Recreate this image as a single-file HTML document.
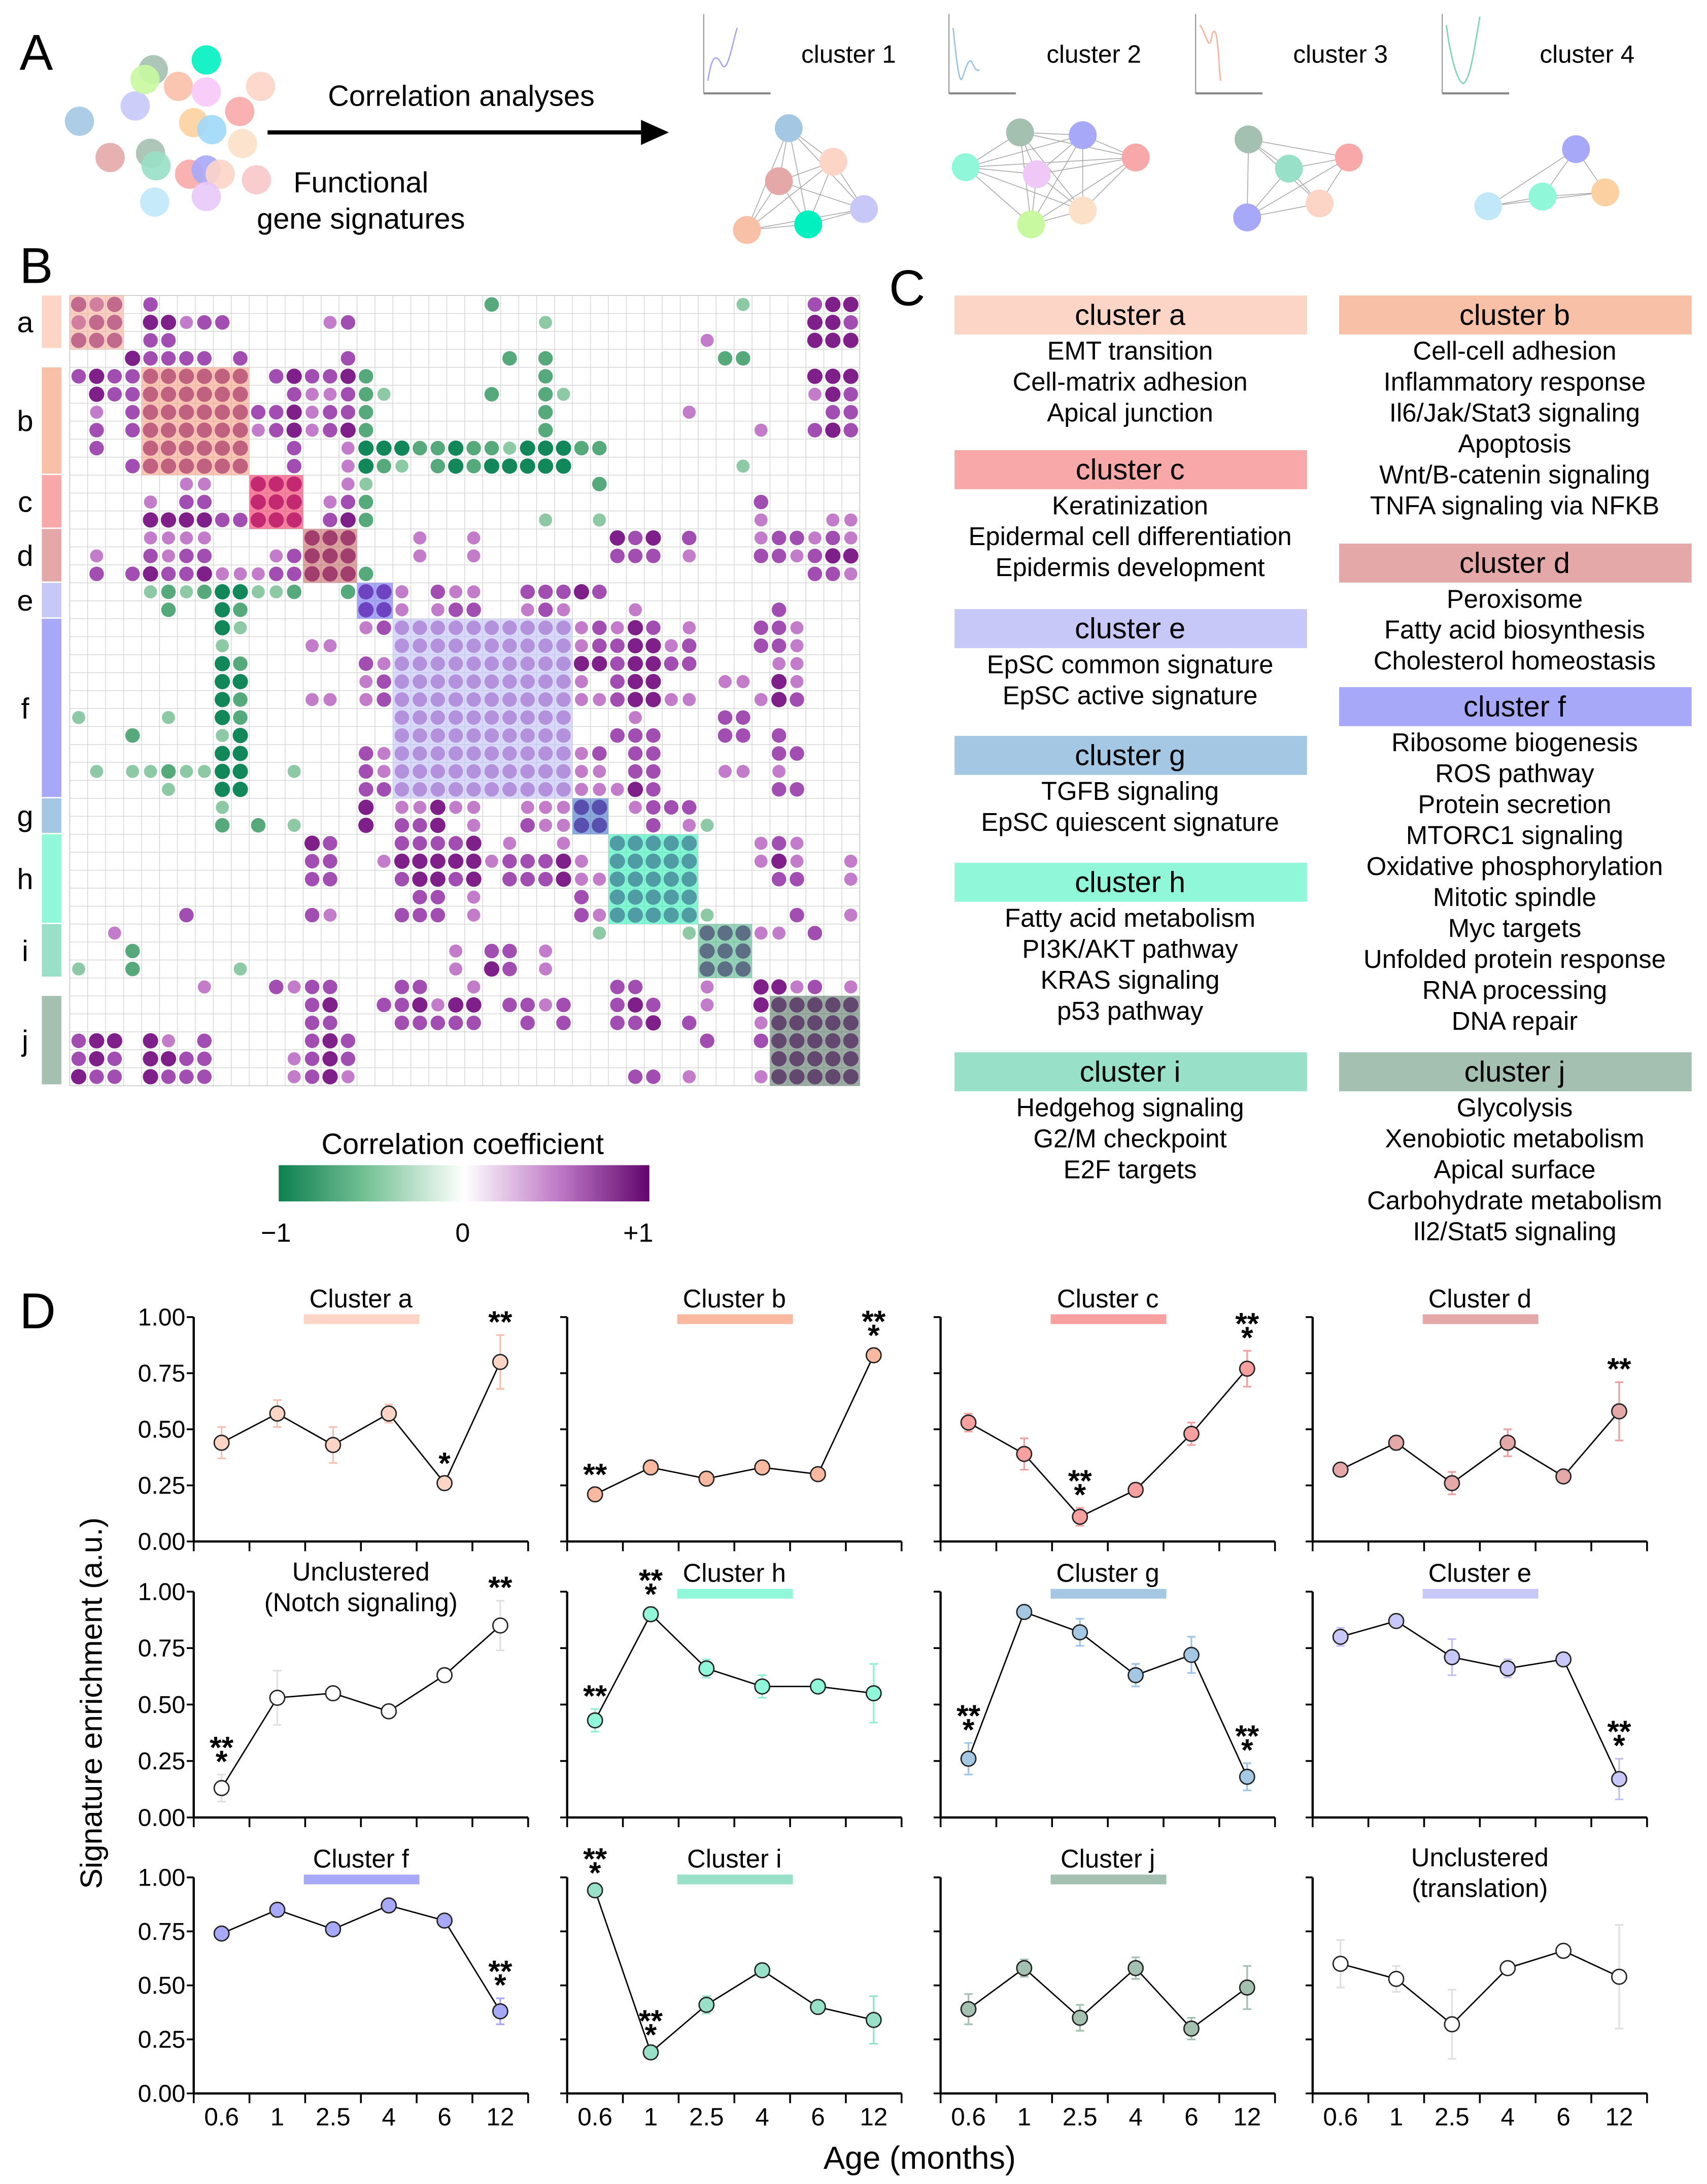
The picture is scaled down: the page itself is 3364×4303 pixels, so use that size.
<!DOCTYPE html>
<html><head><meta charset="utf-8"><style>
html,body{margin:0;padding:0;background:#fff}
svg{display:block}
text{font-family:"Liberation Sans",Arial,sans-serif;fill:#000}
</style></head><body>
<svg id="fig" xmlns="http://www.w3.org/2000/svg" width="3364" height="4303" viewBox="0 0 1225 1567">
<rect x="0" y="0" width="1225" height="1567" fill="#fff"/>
<text x="14" y="50" font-size="36">A</text>
<text x="14" y="203" font-size="36">B</text>
<text x="638" y="219" font-size="36">C</text>
<text x="14" y="953" font-size="36">D</text>
<g id="panelA">
<text x="331" y="76" font-size="21" text-anchor="middle">Correlation analyses</text>
<line x1="192" y1="95" x2="462" y2="95" stroke="#000" stroke-width="3"/>
<polygon points="460,86 480,95 460,104" fill="#000"/>
<text x="259" y="138" font-size="21" text-anchor="middle">Functional</text>
<text x="259" y="164" font-size="21" text-anchor="middle">gene signatures</text>
</g>
<g id="bubbles"></g>
<g id="miniplots"></g>
<g id="networks"></g>
<g id="heatmap"></g>
<g id="colorbar">
<defs><linearGradient id="cbg" x1="0" x2="1" y1="0" y2="0">
<stop offset="0" stop-color="#0e8050"/><stop offset="0.25" stop-color="#7cc49a"/><stop offset="0.5" stop-color="#ffffff"/><stop offset="0.75" stop-color="#c07cc8"/><stop offset="1" stop-color="#62066e"/></linearGradient></defs>
<text x="332" y="828" font-size="21" text-anchor="middle">Correlation coefficient</text>
<rect x="200" y="836" width="266" height="26" fill="url(#cbg)"/>
<text x="198" y="891" font-size="19" text-anchor="middle">−1</text>
<text x="332" y="891" font-size="19" text-anchor="middle">0</text>
<text x="458" y="891" font-size="19" text-anchor="middle">+1</text>
</g>
<g id="panelC"></g>
<g id="panelD"></g>
<text x="0" y="0" font-size="22" text-anchor="middle" transform="translate(73,1222) rotate(-90)">Signature enrichment (a.u.)</text>
<text x="660" y="1556" font-size="23" text-anchor="middle">Age (months)</text>
</svg>
<script>
var NS='http://www.w3.org/2000/svg';
function mk(parent,tag,attrs,txt){var e=document.createElementNS(NS,tag);for(var k in attrs)e.setAttribute(k,attrs[k]);if(txt!==undefined)e.textContent=txt;parent.appendChild(e);return e;}

var bubbleX=[57,79,97,110,104,128,148,148,187,172,139,152,174,108,112,136,148,158,184,111,148];
var bubbleY=[87,113,76,50,57,62,43,66,62,80,88,93,103,110,119,125,122,125,129,145,141];
var bubbleC=['#a4c8e4','#e4a8a8','#c8c8f8','#a4c0b0','#c8f8a0','#f9c0a8','#00f0c0','#f8c8f8','#fcd5c6','#f8a8a8','#fcd0a0','#a0d8f8','#fce0c8','#a4c0b0','#98e0c8','#f8a8a8','#a8a8f8','#fcd5c6','#f8c8c8','#c0e8f8','#e8c8f8'];
var gb=document.getElementById('bubbles');
for(var i=0;i<bubbleX.length;i++){
 var c=mk(gb,'circle',{cx:bubbleX[i],cy:bubbleY[i],r:10.5,fill:bubbleC[i],opacity:0.9});
 
 
}
var miniX=[505,681,858,1035];
var miniLabels=['cluster 1','cluster 2','cluster 3','cluster 4'];
var miniColors=['#a8a8f0','#9cc4e0','#f8b4a0','#80d4b0'];
var miniPaths=['M508,58 C510,45 512,40 515,42 C518,44 518,50 521,47 C524,42 526,30 529,20',
 'M684,20 C686,40 688,58 690,57 C692,54 694,42 697,44 C699,47 700,52 703,50',
 'M861,18 C863,20 864,24 866,28 C868,34 869,30 870,24 C872,20 873,24 874,34 C875,44 875,52 876,58',
 'M1038,18 C1040,35 1045,58 1050,60 C1055,58 1058,35 1062,12'];
var gm=document.getElementById('miniplots');
for(var i=0;i<4;i++){
 var x=miniX[i];
 var a1=mk(gm,'line',{x1:x,y1:10,x2:x,y2:67,stroke:'#999','stroke-width':0.8});
 
 
 var a2=mk(gm,'line',{x1:x,y1:67,x2:x+48,y2:67,stroke:'#888','stroke-width':1.5});
 
 
 var p=mk(gm,'path',{d:miniPaths[i],fill:'none',stroke:miniColors[i],'stroke-width':1});
 
 
 var t=mk(gm,'text',{x:x+70,y:45,'font-size':18},miniLabels[i]);
 
 
}
var nets=[
 [[566,92,'#a4c8e4'],[598,116,'#fcd5c6'],[559,130,'#e4a8a8'],[620,150,'#c8c8f8'],[536,165,'#f9c0a8'],[580,161,'#00f0c0']],
 [[732,95,'#a4c0b0'],[777,97,'#a8a8f8'],[693,120,'#90f8d8'],[815,113,'#f8a8a8'],[744,125,'#f0c8f8'],[777,151,'#fce0c8'],[740,161,'#c8f8a0']],
 [[896,100,'#a4c0b0'],[925,121,'#98e0c8'],[968,113,'#f8a8a8'],[947,146,'#fcd5c6'],[895,156,'#a8a8f8']],
 [[1131,107,'#a8a8f8'],[1107,141,'#90f8d8'],[1152,138,'#fcd0a0'],[1068,148,'#c0e8f8']]];
var gn=document.getElementById('networks');
nets.forEach(function(n){
 for(var a=0;a<n.length;a++)for(var b=a+1;b<n.length;b++){
  var l=mk(gn,'line',{x1:n[a][0],y1:n[a][1],x2:n[b][0],y2:n[b][1],stroke:'#aaa','stroke-width':0.6});
  
  
 }
 n.forEach(function(d){
  var c=mk(gn,'circle',{cx:d[0],cy:d[1],r:10,fill:d[2]});
  
  
 });
});

var hmRows=[
"0:3 1:2 2:3 4:2 23:b 37:a 41:2 42:3 43:3",
"0:2 1:3 2:3 4:3 5:3 6:1 7:2 8:2 14:1 15:2 26:a 41:3 42:3 43:2",
"0:3 1:3 2:3 4:2 5:2 35:1 41:3 42:3 43:3",
"3:3 4:2 5:2 6:2 7:2 9:2 15:2 24:b 26:b 36:b 37:b",
"0:2 1:3 2:2 3:2 11:2 12:3 13:2 14:2 15:3 16:b 26:b 41:3 42:3 43:3",
"1:3 2:2 3:2 12:2 13:1 14:1 15:2 16:b 17:a 23:b 26:b 27:a 41:1 42:3 43:2",
"1:1 3:2 10:2 11:2 12:3 13:1 14:2 15:2 16:b 26:b 34:1 42:2 43:2",
"1:2 3:2 10:1 11:2 12:3 13:1 14:2 15:3 16:b 26:b 38:1 41:2 42:3 43:2",
"1:2 12:2 15:1 16:c 17:c 18:c 19:b 20:b 21:c 22:b 23:b 24:a 25:c 26:c 27:c 28:b 29:b",
"3:2 12:2 15:1 16:c 17:b 18:a 20:b 21:c 22:b 23:c 24:c 25:c 26:c 27:c 37:a",
"6:1 7:1 15:1 16:a 29:b",
"4:1 6:2 7:2 14:1 15:2 16:b 38:2",
"4:3 5:3 6:3 7:3 8:2 9:2 14:2 15:3 16:b 26:a 29:a 38:1 42:1 43:1",
"4:1 5:1 6:1 7:1 19:1 22:1 30:3 31:2 32:3 34:2 38:1 39:2 40:2 41:1 42:2 43:1",
"1:1 4:2 5:1 6:2 7:2 11:1 12:2 19:1 22:1 30:2 31:2 32:2 34:1 38:2 39:2 40:1 41:2 42:3 43:3",
"1:2 3:2 4:3 5:2 6:2 7:3 8:1 9:1 10:1 11:2 12:2 16:b 41:2 42:2 43:1",
"4:a 5:b 6:a 7:b 8:c 9:c 10:a 11:a 12:b 15:b 18:1 20:2 21:1 22:1 25:2 26:2 27:2 28:3 29:2",
"5:b 8:c 9:b 18:1 20:1 21:2 22:2 25:1 26:2 27:1 31:1 39:2",
"8:c 9:a 16:1 17:2 28:1 29:2 30:1 31:3 32:2 34:1 38:2 39:2 40:1",
"8:a 13:1 14:1 28:1 29:2 30:2 31:3 32:3 33:1 34:2 38:2 39:2 40:1",
"8:c 9:b 16:2 17:1 28:3 29:3 30:2 31:3 32:3 33:2 34:2 39:1 40:1",
"8:c 9:c 16:1 17:2 28:1 30:2 31:3 32:3 36:1 37:1 39:3 40:1",
"8:c 9:b 13:1 14:1 16:1 17:2 28:1 29:1 30:2 31:3 32:3 33:1 34:1 38:1 39:3 40:2",
"0:a 5:a 8:c 9:b 31:1 36:2 37:2",
"3:b 8:a 9:c 30:2 31:2 32:2 36:2 37:2 39:2",
"8:c 9:c 16:2 17:1 28:1 29:2 31:2 32:2 39:2 40:2",
"1:a 3:a 4:a 5:b 6:a 7:a 8:c 9:c 12:a 16:2 17:1 28:1 29:1 31:2 32:2 36:1 37:1 39:1",
"5:a 8:c 9:c 16:2 17:2 28:1 29:1 30:1 31:3 32:2 39:2 40:2",
"8:a 16:3 18:1 19:1 20:3 21:1 22:1 25:1 26:1 27:1 31:1 32:2 33:2 34:2",
"8:b 10:b 12:a 16:3 18:2 19:2 20:3 22:1 25:2 26:1 27:1 32:2 34:1 35:a",
"13:3 14:2 18:2 19:2 20:2 21:2 22:3 24:1 27:1 38:1 39:2 40:1",
"13:2 14:2 17:1 18:3 19:3 20:3 21:3 22:3 23:1 24:2 25:2 26:2 27:3 28:1 38:1 39:3 40:1 43:1",
"13:2 14:2 18:2 19:3 20:3 21:2 22:3 24:2 25:2 26:2 27:3 28:1 29:1 39:2 40:2 43:1",
"19:2 20:2 22:1 28:2",
"6:2 13:2 14:1 18:2 19:2 20:2 22:1 28:2 29:1 35:a 40:2 43:1",
"2:1 29:a 34:a 38:1 39:1 41:2",
"3:b 21:1 23:2 24:2 26:1",
"0:a 3:b 9:a 21:1 23:3 24:2 26:1",
"7:1 11:2 12:1 13:2 14:2 18:2 19:2 22:1 30:2 31:2 35:1 38:3 39:3 40:1 41:2 43:1",
"13:2 14:3 17:2 18:2 19:3 20:1 21:3 22:3 24:2 25:2 26:1 27:2 30:2 31:3 32:2 35:1 38:3",
"13:2 14:2 18:2 19:2 20:2 21:2 22:2 25:2 27:2 30:2 31:2 32:3 34:2 38:1",
"0:2 1:3 2:3 4:3 5:1 7:2 13:2 14:3 15:2 35:2 38:2",
"0:2 1:3 2:2 4:3 5:3 6:2 7:2 12:1 13:2 14:3 15:2",
"0:3 1:2 2:2 4:3 5:2 6:2 7:2 12:1 13:2 14:3 15:1 31:2 32:2 34:1 38:1"];
var blockStart=[0,4,10,13,16,18,28,30,35,39];
var blockEnd=[2,9,12,15,17,27,29,34,37,43];
var blockTint=['#f8a890','#f89878','#f03060','#c05858','#6060f0','#c0c0f8','#4070c8','#30f0b8','#40b080','#4a6a5a'];
var blockOpacity=[0.55,0.55,0.6,0.55,0.55,0.6,0.6,0.6,0.55,0.55];
var blockLetters=['a','b','c','d','e','f','g','h','i','j'];
var labelBarColors=['#fcd5c6','#f9c0a8','#f8a8a8','#e4a8a8','#c8c8f8','#a8a8f8','#a4c8e4','#90f8d8','#98e0c8','#a4c0b0'];
var N=44, HX=50, HY=212, CS=(617-50)/44;
var valColor={'1':'#c27cc9','2':'#a24db2','3':'#7e1f8a','a':'#8cc9a4','b':'#55a97b','c':'#12875a'};
var valR={'1':4.7,'2':5.2,'3':5.5,'a':4.7,'b':5.2,'c':5.5};
function cx(i){return HX+CS*(i+0.5);}
var gh=document.getElementById('heatmap');
var bg=mk(gh,'rect',{x:HX,y:HY,width:CS*N,height:CS*N,fill:'#fff',stroke:'#c8c8c8','stroke-width':0.6});


for(var k=1;k<N;k++){
 var v=mk(gh,'line',{x1:HX+CS*k,y1:HY,x2:HX+CS*k,y2:HY+CS*N,stroke:'#d4d4d4','stroke-width':0.5});
 
 
 var h=mk(gh,'line',{x1:HX,y1:HY+CS*k,x2:HX+CS*N,y2:HY+CS*k,stroke:'#d4d4d4','stroke-width':0.5});
 
 
}
var cells=[];
for(var r=0;r<N;r++){cells.push({});hmRows[r].split(' ').forEach(function(s){var p=s.split(':');cells[r][+p[0]]=p[1];});}
for(var b=0;b<blockStart.length;b++)for(var r=blockStart[b];r<=blockEnd[b];r++)for(var c=blockStart[b];c<=blockEnd[b];c++){if(!cells[r][c])cells[r][c]=(b==5?'2':'3');}
for(var r=0;r<N;r++)for(var c in cells[r]){
 var val=cells[r][c];
 var d=mk(gh,'circle',{cx:cx(+c),cy:HY+CS*(r+0.5),r:valR[val],fill:valColor[val]});
 
 
}
for(var b=0;b<blockStart.length;b++){
 var bs=blockStart[b], n=blockEnd[b]-bs+1;
 var br=mk(gh,'rect',{x:HX+CS*bs,y:HY+CS*bs,width:CS*n,height:CS*n,fill:blockTint[b],opacity:blockOpacity[b]});
 
 
 var lb=mk(gh,'rect',{x:30,y:HY+CS*bs,width:14,height:CS*n-1,fill:labelBarColors[b]});
 
 
 var lt=mk(gh,'text',{x:18,y:HY+CS*(bs+n/2)+7,'font-size':21,'text-anchor':'middle'},blockLetters[b]);
 
 
}

var annTitles=['cluster a','cluster c','cluster e','cluster g','cluster h','cluster i','cluster b','cluster d','cluster f','cluster j'];
var annColors=['#fcd5c6','#f8a8a8','#c8c8f8','#a4c8e4','#90f8d8','#98e0c8','#f9c0a8','#e4a8a8','#a8a8f8','#a4c0b0'];
var annTop=[212,323,437,528,619,755,212,390,493,755];
var annX=[685,685,685,685,685,685,961,961,961,961];
var annLines=[
 ['EMT transition','Cell-matrix adhesion','Apical junction'],
 ['Keratinization','Epidermal cell differentiation','Epidermis development'],
 ['EpSC common signature','EpSC active signature'],
 ['TGFB signaling','EpSC quiescent signature'],
 ['Fatty acid metabolism','PI3K/AKT pathway','KRAS signaling','p53 pathway'],
 ['Hedgehog signaling','G2/M checkpoint','E2F targets'],
 ['Cell-cell adhesion','Inflammatory response','Il6/Jak/Stat3 signaling','Apoptosis','Wnt/B-catenin signaling','TNFA signaling via NFKB'],
 ['Peroxisome','Fatty acid biosynthesis','Cholesterol homeostasis'],
 ['Ribosome biogenesis','ROS pathway','Protein secretion','MTORC1 signaling','Oxidative phosphorylation','Mitotic spindle','Myc targets','Unfolded protein response','RNA processing','DNA repair'],
 ['Glycolysis','Xenobiotic metabolism','Apical surface','Carbohydrate metabolism','Il2/Stat5 signaling']];
var gc=document.getElementById('panelC');
for(var i=0;i<annTitles.length;i++){
 var hd=mk(gc,'rect',{x:annX[i],y:annTop[i],width:253,height:28,fill:annColors[i]});
 
 
 var ht=mk(gc,'text',{x:annX[i]+126,y:annTop[i]+21,'font-size':21,'text-anchor':'middle'},annTitles[i]);
 
 
 for(var j=0;j<annLines[i].length;j++){
  var lt=mk(gc,'text',{x:annX[i]+126,y:annTop[i]+46+22.2*j,'font-size':18.5,'text-anchor':'middle'},annLines[i][j]);
  
  
 }
}

var ageLabels=['0.6','1','2.5','4','6','12'];
var yTicks=[0,0.25,0.5,0.75,1];
var yTickLabels=['0.00','0.25','0.50','0.75','1.00'];
var plotTitles=['Cluster a','Cluster b','Cluster c','Cluster d','Unclustered\n(Notch signaling)','Cluster h','Cluster g','Cluster e','Cluster f','Cluster i','Cluster j','Unclustered\n(translation)'];
var plotColors=['#fcd5c6','#f9b8a0','#f8a0a0','#e4a8a8','#ffffff','#90f8d8','#a4c8e4','#c8c8f8','#a8a8f8','#98e0c8','#a4c0b0','#ffffff'];
var meanA=[0.44,0.57,0.43,0.57,0.26,0.80];
var meanB=[0.21,0.33,0.28,0.33,0.30,0.83];
var meanC=[0.53,0.39,0.11,0.23,0.48,0.77];
var meanD=[0.32,0.44,0.26,0.44,0.29,0.58];
var meanNotch=[0.13,0.53,0.55,0.47,0.63,0.85];
var meanH=[0.43,0.90,0.66,0.58,0.58,0.55];
var meanG=[0.26,0.91,0.82,0.63,0.72,0.18];
var meanE=[0.80,0.87,0.71,0.66,0.70,0.17];
var meanF=[0.74,0.85,0.76,0.87,0.80,0.38];
var meanI=[0.94,0.19,0.41,0.57,0.40,0.34];
var meanJ=[0.39,0.58,0.35,0.58,0.30,0.49];
var meanTransl=[0.60,0.53,0.32,0.58,0.66,0.54];
var errA=[0.07,0.06,0.08,0.04,0.03,0.12];
var errB=[0.03,0.02,0.03,0.02,0.02,0.03];
var errC=[0.04,0.07,0.04,0.03,0.05,0.08];
var errD=[0.02,0.03,0.05,0.06,0.02,0.13];
var errNotch=[0.06,0.12,0.03,0.02,0.03,0.11];
var errH=[0.05,0.03,0.04,0.05,0.02,0.13];
var errG=[0.07,0.02,0.06,0.05,0.08,0.06];
var errE=[0.04,0.02,0.08,0.04,0.03,0.09];
var errF=[0.02,0.02,0.02,0.02,0.02,0.06];
var errI=[0.02,0.02,0.04,0.02,0.03,0.11];
var errJ=[0.07,0.04,0.06,0.05,0.05,0.10];
var errTransl=[0.11,0.06,0.16,0.03,0.03,0.24];
var sigA=['','','','','*','**'];
var sigB=['**','','','','','***'];
var sigC=['','','***','','','***'];
var sigD=['','','','','','**'];
var sigNotch=['***','','','','','**'];
var sigH=['**','***','','','',''];
var sigG=['***','','','','','***'];
var sigE=['','','','','','***'];
var sigF=['','','','','','***'];
var sigI=['***','***','','','',''];
var sigJ=['','','','','',''];
var sigTransl=['','','','','',''];
var means=[meanA,meanB,meanC,meanD,meanNotch,meanH,meanG,meanE,meanF,meanI,meanJ,meanTransl];
var errs=[errA,errB,errC,errD,errNotch,errH,errG,errE,errF,errI,errJ,errTransl];
var sigs=[sigA,sigB,sigC,sigD,sigNotch,sigH,sigG,sigE,sigF,sigI,sigJ,sigTransl];
var colLeft=[139,407,675,942];
var rowTop=[945,1142,1347];
var rowBot=[1106,1304,1502];
var errColors=['#f8c0b0','#f8b8a0','#f4a0a0','#e8a0a0','#e0e0e0','#90f0d0','#a0c4e8','#c0c0f4','#a8a8f8','#98e0c8','#a4c0b0','#e0e0e0'];
var gd=document.getElementById('panelD');
function drawPlot(p){
 var L=colLeft[p%4], T=rowTop[Math.floor(p/4)], B=rowBot[Math.floor(p/4)], R=L+240;
 function yS(v){return B-v*(B-T);}
 function xS(i){return L+20+40*i;}
 var g=mk(gd,'g',{});
 
 
 var ya=mk(g,'line',{x1:L,y1:T,x2:L,y2:B,stroke:'#000','stroke-width':1.6});
 
 
 var xa=mk(g,'line',{x1:L,y1:B,x2:R,y2:B,stroke:'#000','stroke-width':1.6});
 
 
 for(var k=0;k<yTicks.length;k++){
  var tk=mk(g,'line',{x1:L-5,y1:yS(yTicks[k]),x2:L,y2:yS(yTicks[k]),stroke:'#000','stroke-width':1.3});
  
  
  if(p%4==0){
   var tl=mk(g,'text',{x:L-6,y:yS(yTicks[k])+6,'font-size':17.5,'text-anchor':'end'},yTickLabels[k]);
   
   
  }
 }
 for(var k=0;k<=6;k++){
  var xt=mk(g,'line',{x1:L+40*k,y1:B,x2:L+40*k,y2:B+7,stroke:'#000','stroke-width':1.3});
  
  
 }
 if(p>=8){
  for(var k=0;k<6;k++){
   var xl=mk(g,'text',{x:xS(k),y:B+23,'font-size':18,'text-anchor':'middle'},ageLabels[k]);
   
   
  }
 }
 var tlines=plotTitles[p].split('\n');
 if(tlines.length==1){
  var tt=mk(g,'text',{x:L+120,y:T-7,'font-size':18.5,'text-anchor':'middle'},tlines[0]);
  
  
  var tb=mk(g,'rect',{x:L+79,y:T-2,width:83,height:7,fill:plotColors[p]});
  
  
 } else {
  for(var k=0;k<2;k++){
   var tt2=mk(g,'text',{x:L+120,y:T-8+22*k,'font-size':18.5,'text-anchor':'middle'},tlines[k]);
   
   
  }
 }
 var m=means[p], e=errs[p], sg=sigs[p];
 var pts=m.map(function(v,i){return xS(i)+','+yS(v);}).join(' ');
 for(var i=0;i<6;i++){
  var eb=mk(g,'path',{d:'M'+xS(i)+','+yS(m[i]-e[i])+'V'+yS(m[i]+e[i])+'M'+(xS(i)-3)+','+yS(m[i]-e[i])+'h6M'+(xS(i)-3)+','+yS(m[i]+e[i])+'h6',stroke:errColors[p],'stroke-width':1.2,fill:'none'});
  
  
 }
 var ln=mk(g,'polyline',{points:pts,fill:'none',stroke:'#000','stroke-width':1});
 
 
 for(var i=0;i<6;i++){
  var pt=mk(g,'circle',{cx:xS(i),cy:yS(m[i]),r:5.3,fill:plotColors[p],stroke:'#222','stroke-width':1});
  
  
  if(sg[i]){
   var starY=yS(m[i]+e[i])-2;
   if(sg[i]=='***'){
    var s1=mk(g,'text',{x:xS(i),y:starY,'font-size':22,'font-weight':'bold','text-anchor':'middle'},'*');
    
    
    var s2=mk(g,'text',{x:xS(i),y:starY-10,'font-size':22,'font-weight':'bold','text-anchor':'middle'},'**');
    
    
   } else {
    var s3=mk(g,'text',{x:xS(i),y:starY,'font-size':22,'font-weight':'bold','text-anchor':'middle'},sg[i]);
    
    
   }
  }
 }
}
for(var p=0;p<12;p++)drawPlot(p);
</script>
</body></html>
